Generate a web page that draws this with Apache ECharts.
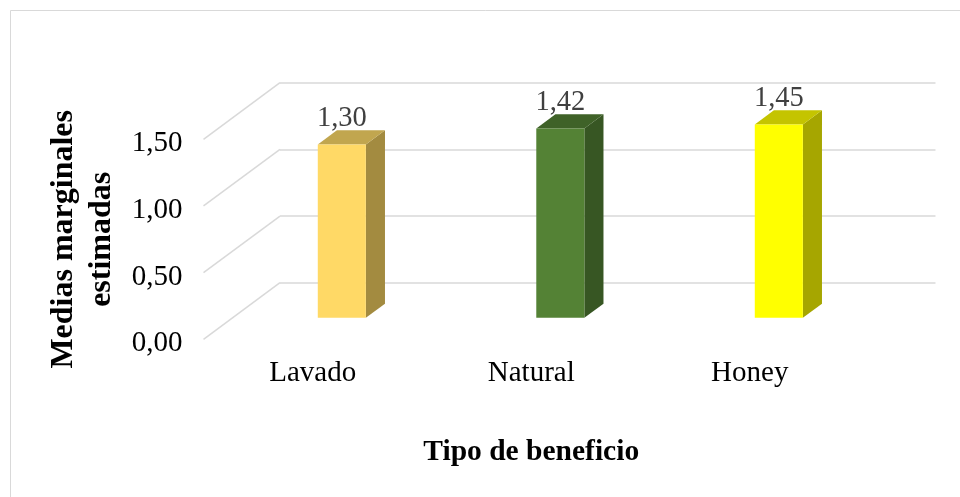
<!DOCTYPE html>
<html>
<head>
<meta charset="utf-8">
<script src="https://cdn.jsdelivr.net/npm/echarts@6/dist/echarts.min.js"></script>
<style>html,body{margin:0;padding:0;background:#fff}#c{width:960px;height:497px}</style>
</head>
<body>
<div id="c"></div>
<script>
var categories = ['Lavado', 'Natural', 'Honey'];
var values = [1.30, 1.42, 1.45];
var tickValues = [0, 0.5, 1.0, 1.5];

var frontColors = ['#FFD966', '#548235', '#FFFF00'];
var sideColors = ['#A38B40', '#375623', '#A6A600'];
var topColors = ['#C1A64F', '#3F6228', '#C4C400'];

var FONT = '"Liberation Serif", "Times New Roman", serif';
var DEPTH = [76.5, -56.6];   // floor depth vector (front -> back)
var BAR_POS = 0.38;          // bar front plane depth fraction
var BAR_DEPTH = 0.25;        // bar depth fraction
var BAR_W = 0.22;            // bar width relative to band

function fmt(v) { return v.toFixed(2).replace('.', ','); }

var chart = echarts.init(document.getElementById('c'));
chart.setOption({
  backgroundColor: '#fff',
  animation: false,
  graphic: [{
    type: 'rect', z: -10,
    shape: { x: 10.5, y: 10.5, width: 1000, height: 1000 },
    style: { fill: 'none', stroke: '#d9d9d9', lineWidth: 1 }
  }],
  grid: [
    { left: 203.5, width: 655.5, top: 139.3, height: 200 },
    { left: 280, width: 655.5, top: 82.7, height: 200 }
  ],
  xAxis: [{
    type: 'category', gridIndex: 0, data: categories,
    axisLine: { show: false }, axisTick: { show: false },
    axisLabel: { fontFamily: FONT, fontSize: 29, color: '#000', margin: 20 },
    name: 'Tipo de beneficio', nameLocation: 'middle', nameGap: 98,
    nameTextStyle: { fontFamily: FONT, fontSize: 29.5, fontWeight: 'bold', color: '#000' }
  }, {
    type: 'category', gridIndex: 1, data: categories, show: false
  }],
  yAxis: [{
    type: 'value', gridIndex: 0, min: 0, max: 1.5, interval: 0.5,
    axisLine: { show: false }, axisTick: { show: false }, splitLine: { show: false },
    axisLabel: {
      fontFamily: FONT, fontSize: 29, color: '#000', margin: 21,
      formatter: function (v) { return '{t|' + fmt(v) + '}'; },
      rich: { t: { fontFamily: FONT, fontSize: 29, color: '#000', padding: [9, 0, 0, 0] } }
    },
    name: 'Medias marginales\nestimadas', nameLocation: 'middle', nameGap: 75,
    nameTextStyle: { fontFamily: FONT, fontSize: 32, fontWeight: 'bold', color: '#000', lineHeight: 38 }
  }, {
    type: 'value', gridIndex: 1, min: 0, max: 1.5, interval: 0.5,
    axisLine: { show: false }, axisTick: { show: false }, axisLabel: { show: false },
    splitLine: { show: true, lineStyle: { color: '#d9d9d9', width: 1.5 } }
  }],
  series: [{
    type: 'custom', xAxisIndex: 0, yAxisIndex: 0, z: 1,
    data: tickValues.map(function (t) { return [0, t]; }),
    renderItem: function (params, api) {
      var p = api.coord([0, api.value(1)]);
      var half = api.size([1, 0])[0] / 2;
      var x0 = p[0] - half;
      return {
        type: 'line',
        shape: { x1: x0, y1: p[1], x2: x0 + DEPTH[0], y2: p[1] + DEPTH[1] },
        style: { stroke: '#d9d9d9', lineWidth: 1.5 }
      };
    }
  }, {
    type: 'custom', xAxisIndex: 0, yAxisIndex: 0, z: 5,
    data: values.map(function (v, i) { return [i, v]; }),
    renderItem: function (params, api) {
      var i = api.value(0);
      var base = api.coord([i, 0]);
      var top = api.coord([i, api.value(1)]);
      var band = api.size([1, 0])[0];
      var w = band * BAR_W;
      var ox = DEPTH[0] * BAR_POS, oy = DEPTH[1] * BAR_POS;
      var dx = DEPTH[0] * BAR_DEPTH, dy = DEPTH[1] * BAR_DEPTH;
      var x0 = base[0] - w / 2 + ox, x1 = x0 + w;
      var yb = base[1] + oy, yt = top[1] + oy;
      return {
        type: 'group',
        children: [{
          type: 'polygon',
          shape: { points: [[x1, yt], [x1 + dx, yt + dy], [x1 + dx, yb + dy], [x1, yb]] },
          style: { fill: sideColors[i] }
        }, {
          type: 'polygon',
          shape: { points: [[x0, yt], [x0 + dx, yt + dy], [x1 + dx, yt + dy], [x1, yt]] },
          style: { fill: topColors[i] }
        }, {
          type: 'rect',
          shape: { x: x0, y: yt, width: w, height: yb - yt },
          style: { fill: frontColors[i] }
        }, {
          type: 'text',
          style: {
            x: (x0 + x1) / 2, y: yt + dy + 3,
            text: fmt(api.value(1)),
            align: 'center', verticalAlign: 'bottom',
            fontFamily: FONT, fontSize: 28.5, fill: '#404040'
          }
        }]
      };
    }
  }]
});
</script>
</body>
</html>
